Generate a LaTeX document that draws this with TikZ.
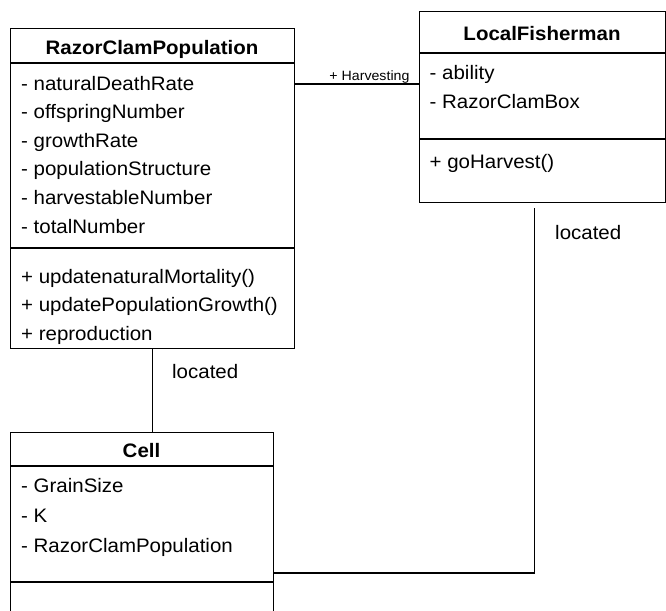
\documentclass[tikz,border=0pt]{standalone}
\usepackage{fontspec}
\setmainfont[FakeStretch=1.05]{Liberation Sans}

\tikzset{
  classbox/.style={draw, line width=1.1pt, anchor=north west, inner sep=0pt},
  classname/.style={anchor=base, inner sep=0pt, font=\fontsize{19.5}{23}\selectfont\bfseries},
  member/.style={anchor=base west, inner sep=0pt, font=\fontsize{19.5}{23}\selectfont},
  rolelabel/.style={anchor=base east, inner sep=0pt, font=\fontsize{13.5}{16}\selectfont},
  link/.style={line width=1.1pt},
}

\begin{document}
\begin{tikzpicture}[x=1pt, y=-1pt]
    \useasboundingbox (0,0) rectangle (666,610);
    \clip (0,0) rectangle (666,610);

    % Classe RazorClamPopulation
    \node[classbox, minimum width=284pt, minimum height=320pt] (rcp) at (10,28) {};
    \draw[link] (10,63) -- (294,63);
    \draw[link] (10,248) -- (294,248);
    \node[classname] (rcpName) at (152,55) {RazorClamPopulation};
    \node[member] (rcpA) at (21,90) {- naturalDeathRate};
    \node[member] (rcpB) at (21,118.6) {- offspringNumber};
    \node[member] (rcpC) at (21,147.2) {- growthRate};
    \node[member] (rcpD) at (21,175.8) {- populationStructure};
    \node[member] (rcpE) at (21,204.4) {- harvestableNumber};
    \node[member] (rcpF) at (21,233) {- totalNumber};
    \node[member] (rcpM) at (21,283) {+ updatenaturalMortality()};
    \node[member] (rcpN) at (21,311.5) {+ updatePopulationGrowth()};
    \node[member] (rcpO) at (21,340) {+ reproduction};

    % Classe LocalFisherman
    \node[classbox, minimum width=246pt, minimum height=191pt] (lf) at (419,11) {};
    \draw[link] (419,53) -- (665,53);
    \draw[link] (419,139) -- (665,139);
    \node[classname] (lfName) at (542,40.5) {LocalFisherman};
    \node[member] (lfA) at (429.5,79) {- ability};
    \node[member] (lfB) at (429.5,108.5) {- RazorClamBox};
    \node[member] (lfM) at (429.5,168) {+ goHarvest()};

    % Classe Cell
    \node[classbox, minimum width=263pt, minimum height=240pt] (cell) at (10,432) {};
    \draw[link] (10,466) -- (273,466);
    \draw[link] (10,582) -- (273,582);
    \node[classname] (cellName) at (141.5,457) {Cell};
    \node[member] (cellA) at (21,492) {- GrainSize};
    \node[member] (cellB) at (21,522.5) {- K};
    \node[member] (cellC) at (21,552) {- RazorClamPopulation};

    % Associations
    \draw[link] (rcp.east |- 0,84) -- (lf.west |- 0,84)
        node[rolelabel, pos=1, xshift=-9pt, yshift=4pt] (harvLbl) {+ Harvesting};

    \draw[link] (rcp.south) -- (rcp.south |- cell.north);
    \node[member] (locLeft) at (172,378) {located};

    \coordinate (lfDrop) at ([xshift=-8pt, yshift=-5pt]lf.south);
    \draw[link] (lfDrop) |- (cell.east |- 0,573);
    \node[member] (locRight) at (555,239) {located};
\end{tikzpicture}
\end{document}
